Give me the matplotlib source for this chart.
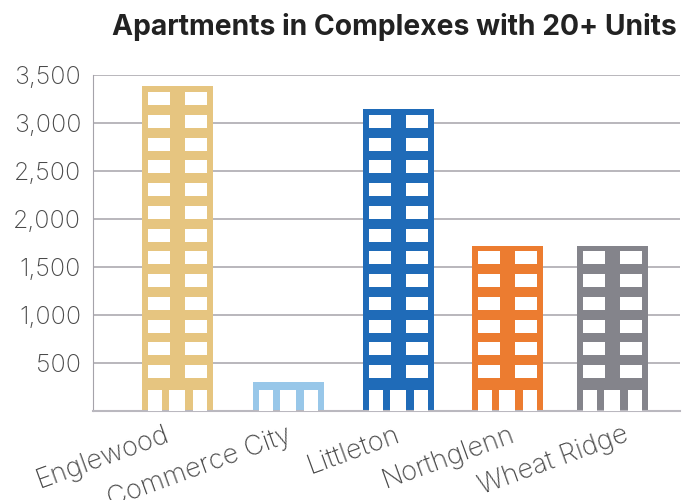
import matplotlib
matplotlib.use("Agg")
import matplotlib.pyplot as plt

cities = ["Englewood", "Commerce City", "Littleton", "Northglenn", "Wheat Ridge"]
apartments = [3385, 302, 3146, 1719, 1719]
colors = ["#e6c580", "#98c7e9", "#1f6bb8", "#ec7c30", "#84848b"]
y_ticks = [500, 1000, 1500, 2000, 2500, 3000, 3500]
y_labels = ["500", "1,000", "1,500", "2,000", "2,500", "3,000", "3,500"]

# layout, in pixels of the 691x500 figure
LEFT, RIGHT, TOP, BOTTOM = 93, 680, 75, 411
PITCH = 109
BAR_W = 71
bar_nudge = [0, 0.018, 0.0275, 0.0275, -0.009]
label_shift = [-14, -2, -4, 1, 11]
px_y = 3500 / (BOTTOM - TOP)

plt.rcParams["font.family"] = ["Inter", "DejaVu Sans"]

fig = plt.figure(figsize=(6.91, 5), dpi=100)
ax = fig.add_axes([LEFT / 691, 1 - BOTTOM / 500, (RIGHT - LEFT) / 691, (BOTTOM - TOP) / 500])
ax.set_xlim(-(177.5 - LEFT) / PITCH, (RIGHT - 177.5) / PITCH)
ax.set_ylim(0, 3500)

ax.set_axisbelow(True)
ax.grid(axis="y", color="#a5a3aa", lw=1.1)
for side in ["top", "right"]:
    ax.spines[side].set_visible(False)
ax.spines["left"].set_color("#a5a3aa")
ax.spines["bottom"].set_color("#bab8bf")
ax.spines["bottom"].set_linewidth(1.5)

for i, value in enumerate(apartments):
    x = i + bar_nudge[i]
    ax.bar(x, value, width=BAR_W / PITCH, color=colors[i], zorder=2)
    # ground floor openings
    for off, w in [(13, 14), (35, 16), (58, 14)]:
        ax.bar(x - BAR_W / 2 / PITCH + off / PITCH, 21 * px_y, width=w / PITCH, color="white", zorder=3)
    # window rows, counted up from the ground floor
    row = 33
    while (row + 13 + 5) * px_y <= value:
        for off in (17, 54):
            ax.bar(x - BAR_W / 2 / PITCH + off / PITCH, 13 * px_y, bottom=row * px_y,
                   width=22 / PITCH, color="white", zorder=3)
        row += 22.75

ax.set_yticks(y_ticks)
ax.set_yticklabels(y_labels, fontsize=18, color="#4a4a4a", fontweight="light")
ax.tick_params(axis="y", length=0, pad=8.5)
ax.set_xticks([])

for i, city in enumerate(cities):
    ax.annotate(city, xy=(i + bar_nudge[i], 0), xycoords="data",
                xytext=(label_shift[i] * 0.72, -8), textcoords="offset points",
                rotation=20, ha="right", va="top", rotation_mode="anchor",
                fontsize=19.5, color="#4a4a4a", fontweight="light", annotation_clip=False)

fig.text(677 / 691, 1 - 27 / 500, "Apartments in Complexes with 20+ Units", ha="right", va="center",
         fontsize=20.35, fontweight="bold", color="#222222")

fig.savefig("out.png", dpi=100)
